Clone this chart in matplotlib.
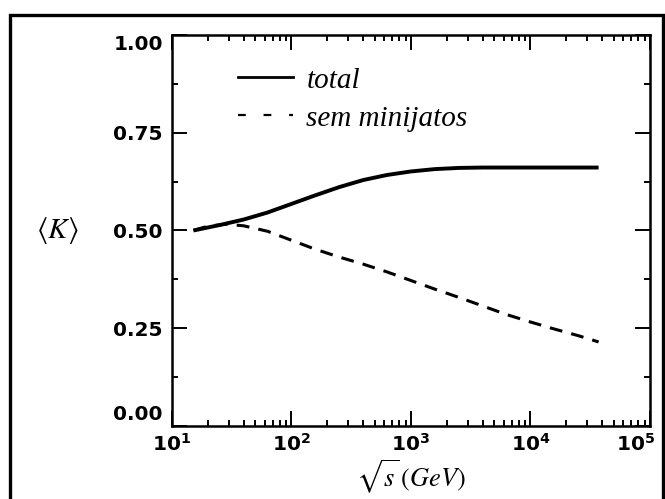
import numpy as np
import matplotlib
matplotlib.use("Agg")
import matplotlib.pyplot as plt
from matplotlib.lines import Line2D
from matplotlib.patches import Rectangle
from matplotlib.transforms import ScaledTranslation
from matplotlib.ticker import LogLocator, FixedLocator, NullFormatter, FuncFormatter

# sqrt(s) in GeV (log10) and the mean inelasticity <K>
log_sqrt_s_total = [1.18, 1.4, 1.6, 1.8, 2.0, 2.2, 2.4, 2.6, 2.8, 3.0, 3.2, 3.4, 3.6, 4.0, 4.57]
k_total = [0.500, 0.514, 0.528, 0.546, 0.568, 0.590, 0.611, 0.629, 0.642, 0.651, 0.657, 0.660, 0.661, 0.661, 0.661]

log_sqrt_s_nominijet = [1.18, 1.3, 1.45, 1.6, 1.8, 2.0, 2.2, 2.4, 2.6, 2.8, 3.0, 3.2, 3.4, 3.6, 3.8, 4.0, 4.2, 4.4, 4.57]
k_nominijet = [0.500, 0.511, 0.516, 0.512, 0.498, 0.475, 0.452, 0.432, 0.414, 0.394, 0.372, 0.350, 0.329, 0.307, 0.285, 0.266, 0.248, 0.231, 0.215]

legend_labels = ["total", "sem minijatos"]
x_ticks = [1e1, 1e2, 1e3, 1e4, 1e5]
y_ticks = [0.0, 0.25, 0.5, 0.75, 1.0]

plt.rcParams["mathtext.fontset"] = "dejavusans"

fig = plt.figure(figsize=(6.65, 4.99), dpi=100)
ax = fig.add_axes([0.2586, 0.1463, 0.7188, 0.7836])

x_tot = 10 ** np.array(log_sqrt_s_total)
x_nom = 10 ** np.array(log_sqrt_s_nominijet)

ax.plot(x_tot, k_total, color="black", lw=2.8, solid_capstyle="butt")
ax.plot(x_nom, k_nominijet, color="black", lw=2.2, ls=(0, (4.2, 3.0)))

ax.set_xscale("log")
ax.set_xlim(10, 1e5)
ax.set_ylim(0, 1)

# ticks inward on all four sides
ax.xaxis.set_major_locator(FixedLocator(x_ticks))
ax.xaxis.set_minor_locator(LogLocator(base=10, subs=np.arange(2, 10), numticks=20))
ax.xaxis.set_minor_formatter(NullFormatter())
ax.xaxis.set_major_formatter(FuncFormatter(
    lambda v, p: r"$\mathbf{10^{%d}}$" % round(np.log10(v))))
ax.yaxis.set_major_locator(FixedLocator(y_ticks))
ax.yaxis.set_minor_locator(FixedLocator([0.125, 0.375, 0.625, 0.875]))
ax.yaxis.set_major_formatter(FuncFormatter(lambda v, p: "%.2f" % v))

ax.tick_params(which="both", direction="in", top=True, right=True, width=1.4, colors="black")
ax.tick_params(which="major", length=11)
ax.tick_params(which="minor", length=4)
ax.tick_params(axis="y", pad=6.5, labelsize=14.5)
ax.tick_params(axis="x", pad=5, labelsize=14.5)
for lab in ax.get_yticklabels():
    lab.set_fontweight("bold")

# end labels pulled in toward the middle of the axis
yt = ax.yaxis.get_major_ticks()
yt[0].label1.set_transform(yt[0].label1.get_transform() + ScaledTranslation(0, 13 / 100, fig.dpi_scale_trans))
yt[-1].label1.set_transform(yt[-1].label1.get_transform() + ScaledTranslation(0, -8 / 100, fig.dpi_scale_trans))
xt = ax.xaxis.get_major_ticks()
xt[-1].label1.set_transform(xt[-1].label1.get_transform() + ScaledTranslation(-14 / 100, 0, fig.dpi_scale_trans))

for sp in ax.spines.values():
    sp.set_linewidth(1.8)

ax.set_xlabel(r"$\sqrt{s}\,(GeV)$", fontsize=19, math_fontfamily="stix", labelpad=2)
ax.set_ylabel(r"$\langle K\rangle$", fontsize=21, math_fontfamily="stix", rotation=0,
              va="center", ha="center")
ax.yaxis.set_label_coords(-0.24, 0.5)

handles = [Line2D([], [], color="black", lw=2.0),
           Line2D([], [], color="black", lw=1.6, ls=(0, (3.5, 8)))]
ax.legend(handles, legend_labels, loc="upper left", bbox_to_anchor=(0.083, 0.985),
          frameon=False, handlelength=1.9, handletextpad=0.45, labelspacing=0.4,
          prop={"family": "Liberation Serif", "style": "italic", "size": 21})

# heavy frame round the whole panel
fig.patches.append(Rectangle((10 / 665, -0.05), 653 / 665, 1.05 - 15 / 499,
                             transform=fig.transFigure, fill=False,
                             edgecolor="black", lw=2.4, clip_on=False))

fig.savefig("out.png", dpi=100)
